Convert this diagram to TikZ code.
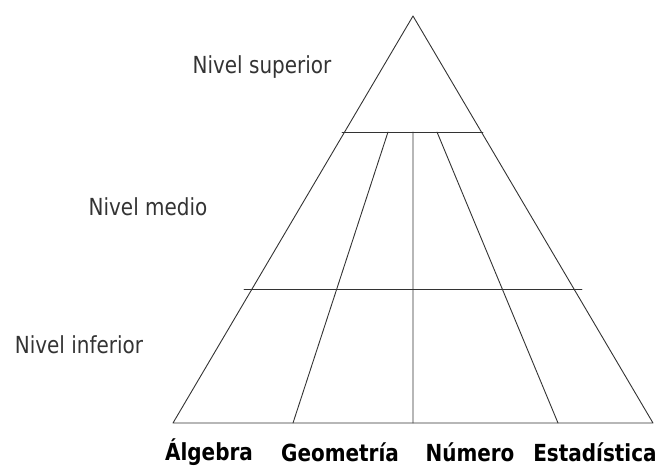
\documentclass[tikz,border=0pt]{standalone}
\usepackage{fontspec}
\setmainfont{DejaVu Sans}[FakeStretch=0.85]
\begin{document}
\begin{tikzpicture}[x=1pt, y=-1pt, line join=round, line cap=round,
	font=\fontsize{23.5}{26}\selectfont, text=black!80,
	linea/.style={line width=0.9pt, draw=black!80}]
	\useasboundingbox (0,0) rectangle (665,466);
	\path
	(413,16) coordinate (S)
	(173,423) coordinate (A)
	(653,423) coordinate (B)
	(342,132) coordinate (M1)
	(483,132) coordinate (M2)
	(244,289) coordinate (N1)
	(582,289) coordinate (N2)
	(388,132) coordinate (G1)
	(293,423) coordinate (G2)
	(413,132) coordinate (C1)
	(413,423) coordinate (C2)
	(437,132) coordinate (E1)
	(558,423) coordinate (E2);
	\draw[linea] (S)--(A)--(B)--cycle;
	\draw[linea] (M1)--(M2) (N1)--(N2);
	\draw[linea] (G1)--(G2) (C1)--(C2) (E1)--(E2);
	% Niveles
	\node (sup) at (262,67) {Nivel superior};
	\node (med) at (148,207) {Nivel medio};
	\node (inf) at (79,345) {Nivel inferior};
	% Ramas
	\foreach \n/\x/\t in {alg/209/Álgebra, geo/340/Geometría, num/470/Número, est/595/Estadística}
	\node[font=\fontsize{23.5}{26}\selectfont\bfseries, text=black] (\n) at (\x,452) {\t};
\end{tikzpicture}
\end{document}
